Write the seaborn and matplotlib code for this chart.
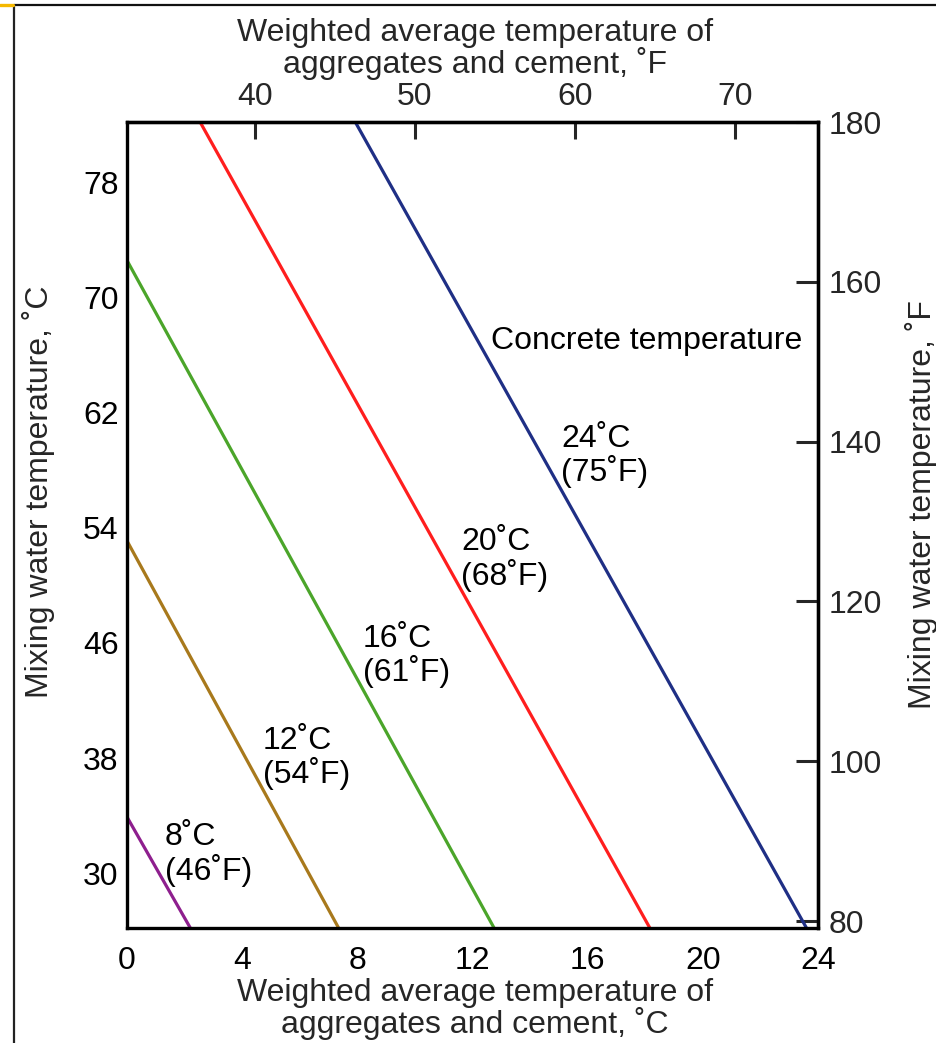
import matplotlib
matplotlib.use("Agg")
import matplotlib.pyplot as plt
from matplotlib.lines import Line2D
import seaborn as sns
import pandas as pd

# ---- data ----
concrete_c = [8, 12, 16, 20, 24]
concrete_f = [46, 54, 61, 68, 75]
x_start = [0.0, 0.0, 0.0, 2.54, 7.93]      # weighted avg temp, degC
y_start = [33.9, 53.1, 72.6, 82.22, 82.22]  # mixing water temp, degC
x_end = [2.2, 7.35, 12.75, 18.16, 23.6]
y_end = [26.18, 26.18, 26.18, 26.18, 26.18]

x_ticks_c = [0, 4, 8, 12, 16, 20, 24]
y_ticks_c = [30, 38, 46, 54, 62, 70, 78]
x_ticks_f = [40, 50, 60, 70]
y_ticks_f = [80, 100, 120, 140, 160, 180]

line_colors = ["#8e1f8e", "#a8791c", "#4ba52a", "#ff1e1e", "#1f2f85"]
label_pos_x = [1.32, 4.72, 8.2, 11.6, 15.08]
label_pos_y = [31.3, 38.0, 45.1, 51.8, 59.0]

sns.set_theme(style="white")
plt.rcParams["font.family"] = ["Liberation Sans", "DejaVu Sans"]
FS = 23
plt.rcParams["font.size"] = FS

rows = []
for c, xs, ys, xe, ye in zip(concrete_c, x_start, y_start, x_end, y_end):
    rows.append({"series": f"{c}", "x": xs, "y": ys})
    rows.append({"series": f"{c}", "x": xe, "y": ye})
df = pd.DataFrame(rows)

W, H = 936, 1043
fig = plt.figure(figsize=(W / 100, H / 100), dpi=100)
L, R, B, T = 127, 818, 928, 122
ax = fig.add_axes([L / W, (H - B) / H, (R - L) / W, (B - T) / H])

palette = {f"{c}": col for c, col in zip(concrete_c, line_colors)}
sns.lineplot(data=df, x="x", y="y", hue="series", palette=palette, sort=False,
             estimator=None, units="series", linewidth=2.3, legend=False, ax=ax)

ax.set_xlim(0, 24)
ax.set_ylim(26.18, 82.225)
ax.set_xticks(x_ticks_c)
ax.set_yticks(y_ticks_c)
ax.set_xticklabels([str(v) for v in x_ticks_c])
ax.set_yticklabels([str(v) for v in y_ticks_c])
for s in ax.spines.values():
    s.set_linewidth(2.4)
    s.set_color("black")
ax.tick_params(axis="x", direction="in", length=12, width=2.2, pad=13, labelsize=FS, colors="black")
ax.tick_params(axis="y", direction="in", length=16, width=2.2, pad=6, labelsize=FS, colors="black")


def fig_xy(px, py):
    return px / W, 1 - py / H


ax.set_xlabel("Weighted average temperature of\naggregates and cement, ˚C", fontsize=FS,
              linespacing=0.98)
ax.set_ylabel("Mixing water temperature, ˚C", fontsize=FS)

c2f = lambda c: c * 9 / 5 + 32
f2c = lambda f: (f - 32) * 5 / 9
top = ax.secondary_xaxis("top", functions=(c2f, f2c))
top.set_xticks(x_ticks_f)
top.set_xticklabels([str(v) for v in x_ticks_f])
top.tick_params(direction="in", length=12, width=2.2, pad=7, labelsize=FS)
top.set_xlabel("Weighted average temperature of\naggregates and cement, ˚F", fontsize=FS,
               linespacing=0.98)

right = ax.secondary_yaxis("right", functions=(c2f, f2c))
right.set_yticks(y_ticks_f)
right.set_yticklabels([str(v) for v in y_ticks_f])
right.tick_params(direction="in", length=16, width=2.2, pad=8, labelsize=FS)
right.set_ylabel("Mixing water temperature, ˚F", fontsize=FS)
for s in list(top.spines.values()) + list(right.spines.values()):
    s.set_linewidth(2.4)

for c, f, lx, ly in zip(concrete_c, concrete_f, label_pos_x, label_pos_y):
    ax.text(lx, ly, f"{c}˚C\n({f}˚F)", ha="left", va="center", fontsize=FS,
            linespacing=1.05, color="black")
ax.text(12.63, 67.0, "Concrete temperature", ha="left", va="center", fontsize=FS, color="black")

# page frame decorations
fig.add_artist(Line2D([13.5 / W, 13.5 / W], [0, 1 - 4.5 / H], transform=fig.transFigure,
                      color="#222222", linewidth=1.6))
fig.add_artist(Line2D([13.5 / W, 1], [1 - 4.5 / H, 1 - 4.5 / H], transform=fig.transFigure,
                      color="#111111", linewidth=1.6))
fig.add_artist(Line2D([0, 13 / W], [1 - 4.8 / H, 1 - 4.8 / H], transform=fig.transFigure,
                      color="#f5b800", linewidth=2.4))

# explicit label placement
ax.xaxis.set_label_coords(*fig_xy(475, 1009), transform=fig.transFigure)
ax.yaxis.set_label_coords(*fig_xy(38, 492), transform=fig.transFigure)
top.xaxis.set_label_coords(*fig_xy(475, 49), transform=fig.transFigure)
right.yaxis.set_label_coords(*fig_xy(921, 505), transform=fig.transFigure)
for lab in (ax.xaxis.label, ax.yaxis.label, top.xaxis.label, right.yaxis.label):
    lab.set_verticalalignment("center")
    lab.set_horizontalalignment("center")

fig.savefig("out.png", dpi=100)
